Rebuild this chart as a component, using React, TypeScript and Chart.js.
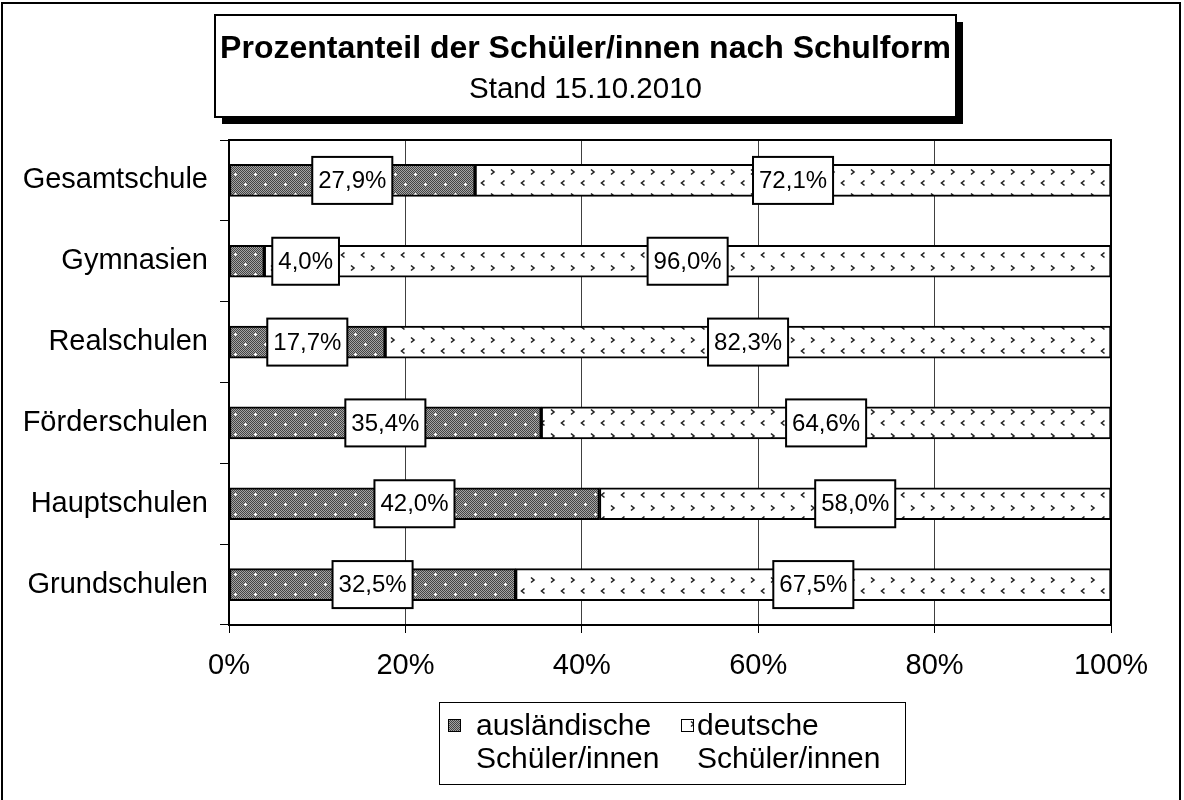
import React, { useEffect, useRef } from "react";
import { Chart, registerables } from "chart.js";

Chart.register(...registerables);

const categories = ["Gesamtschule", "Gymnasien", "Realschulen", "Förderschulen", "Hauptschulen", "Grundschulen"];
const auslaendische = [27.9, 4.0, 17.7, 35.4, 42.0, 32.5];
const deutsche = [72.1, 96.0, 82.3, 64.6, 58.0, 67.5];
const seriesNames = [["ausländische", "Schüler/innen"], ["deutsche", "Schüler/innen"]];
const titleText = "Prozentanteil der Schüler/innen nach Schulform";
const subtitleText = "Stand 15.10.2010";
const xTicks = [0, 20, 40, 60, 80, 100];

const FONT = '"Liberation Sans", Arial, Helvetica, sans-serif';

function makeDarkPattern(ctx: CanvasRenderingContext2D): CanvasPattern | string {
  const c = document.createElement("canvas");
  c.width = 20;
  c.height = 20;
  const g = c.getContext("2d");
  if (!g) return "#777";
  for (let y = 0; y < 20; y++) {
    for (let x = 0; x < 20; x++) {
      g.fillStyle = (x + y) % 2 === 0 ? "#444444" : "#a4a4a4";
      g.fillRect(x, y, 1, 1);
    }
  }
  g.fillStyle = "#ffffff";
  const dots = [[5, 4], [15, 14]];
  dots.forEach(([dx, dy]) => {
    g.fillRect(dx - 1, dy, 3, 1);
    g.fillRect(dx, dy - 1, 1, 3);
  });
  return ctx.createPattern(c, "repeat") || "#777";
}

function makeLightPattern(ctx: CanvasRenderingContext2D): CanvasPattern | string {
  const c = document.createElement("canvas");
  c.width = 20;
  c.height = 24;
  const g = c.getContext("2d");
  if (!g) return "#fff";
  g.fillStyle = "#ffffff";
  g.fillRect(0, 0, 20, 24);
  g.strokeStyle = "#222222";
  g.lineWidth = 1.6;
  // ">"
  g.beginPath();
  g.moveTo(11, 1.5);
  g.lineTo(14, 4);
  g.lineTo(11, 6.5);
  g.stroke();
  // "<"
  g.beginPath();
  g.moveTo(4.5, 12.5);
  g.lineTo(1.5, 15);
  g.lineTo(4.5, 17.5);
  g.stroke();
  return ctx.createPattern(c, "repeat") || "#fff";
}

export default function App() {
  const ref = useRef<HTMLCanvasElement | null>(null);

  useEffect(() => {
    const canvas = ref.current;
    if (!canvas) return;
    const ctx = canvas.getContext("2d");
    if (!ctx) return;
    const darkPat = makeDarkPattern(ctx);
    const lightPat = makeLightPattern(ctx);

    const decorPlugin = {
      id: "decor",
      beforeDraw(chart: any) {
        const c = chart.ctx as CanvasRenderingContext2D;
        c.save();
        c.fillStyle = "#ffffff";
        c.fillRect(0, 0, chart.width, chart.height);
        c.restore();
      },
      afterDatasetsDraw(chart: any) {
        const c = chart.ctx as CanvasRenderingContext2D;
        const area = chart.chartArea;
        c.save();
        // plot frame
        c.strokeStyle = "#000";
        c.lineWidth = 2;
        c.strokeRect(area.left, area.top, area.right - area.left, area.bottom - area.top);

        // data labels
        c.font = `24px ${FONT}`;
        c.textAlign = "center";
        c.textBaseline = "middle";
        chart.data.datasets.forEach((ds: any, di: number) => {
          const meta = chart.getDatasetMeta(di);
          meta.data.forEach((bar: any, i: number) => {
            const v = ds.data[i];
            const label = v.toFixed(1).replace(".", ",") + "%";
            const tw = c.measureText(label).width;
            const w = tw + 12;
            const h = 47;
            const x0 = Math.min(bar.x, bar.base);
            const x1 = Math.max(bar.x, bar.base);
            let cx = (x0 + x1) / 2;
            if (cx - w / 2 < area.left) cx = x1 + 8 + w / 2;
            const cy = bar.y;
            c.fillStyle = "#fff";
            c.fillRect(cx - w / 2, cy - h / 2, w, h);
            c.strokeStyle = "#000";
            c.lineWidth = 2;
            c.strokeRect(cx - w / 2, cy - h / 2, w, h);
            c.fillStyle = "#000";
            c.fillText(label, cx, cy + 1);
          });
        });
        c.restore();
      },
      afterDraw(chart: any) {
        const c = chart.ctx as CanvasRenderingContext2D;
        c.save();
        // outer border
        c.strokeStyle = "#000";
        c.lineWidth = 2;
        c.strokeRect(2, 3, 1178, 820);

        // title box with shadow
        const tb = { x: 215, y: 15, w: 741, h: 102 };
        c.fillStyle = "#000";
        c.fillRect(tb.x + 7, tb.y + 7, tb.w, tb.h);
        c.fillStyle = "#fff";
        c.fillRect(tb.x, tb.y, tb.w, tb.h);
        c.strokeStyle = "#000";
        c.lineWidth = 2;
        c.strokeRect(tb.x, tb.y, tb.w, tb.h);
        c.fillStyle = "#000";
        c.textAlign = "center";
        c.textBaseline = "alphabetic";
        c.font = `bold 32px ${FONT}`;
        c.fillText(titleText, tb.x + tb.w / 2, 58);
        c.font = `29.5px ${FONT}`;
        c.fillText(subtitleText, tb.x + tb.w / 2, 98);

        // legend
        const lb = { x: 439, y: 702, w: 466, h: 82 };
        c.fillStyle = "#fff";
        c.fillRect(lb.x, lb.y, lb.w, lb.h);
        c.strokeStyle = "#000";
        c.lineWidth = 1;
        c.strokeRect(lb.x + 0.5, lb.y + 0.5, lb.w, lb.h);
        const pats = [darkPat, lightPat];
        const mx = [448, 681];
        const tx = [476, 697];
        c.font = `30px ${FONT}`;
        c.textAlign = "left";
        seriesNames.forEach((lines, i) => {
          c.fillStyle = pats[i] as any;
          c.fillRect(mx[i], 719, 12, 12);
          c.strokeStyle = "#000";
          c.lineWidth = 1;
          c.strokeRect(mx[i] + 0.5, 719.5, 12, 12);
          c.fillStyle = "#000";
          c.fillText(lines[0], tx[i], 735);
          c.fillText(lines[1], tx[i], 768);
        });
        c.restore();
      },
    };

    const chart = new Chart(ctx, {
      type: "bar",
      data: {
        labels: categories,
        datasets: [
          {
            label: seriesNames[0].join(" "),
            data: auslaendische,
            backgroundColor: darkPat as any,
            borderColor: "#000",
            borderWidth: 2,
            borderSkipped: false,
            barThickness: 32,
          },
          {
            label: seriesNames[1].join(" "),
            data: deutsche,
            backgroundColor: lightPat as any,
            borderColor: "#000",
            borderWidth: 2,
            borderSkipped: false,
            barThickness: 32,
          },
        ],
      },
      options: {
        indexAxis: "y",
        responsive: false,
        animation: false,
        devicePixelRatio: 1,
        layout: { padding: { top: 140, right: 73, left: 0, bottom: 0 } },
        plugins: {
          legend: { display: false },
          tooltip: { enabled: false },
          title: { display: false },
        },
        scales: {
          x: {
            stacked: true,
            min: 0,
            max: 100,
            afterBuildTicks: (scale: any) => {
              scale.ticks = xTicks.map((v) => ({ value: v }));
            },
            afterFit: (scale: any) => {
              scale.height = 175;
            },
            ticks: {
              callback: (v: any) => `${v}%`,
              font: { family: FONT, size: 29 },
              color: "#000",
              padding: 16,
              maxRotation: 0,
              autoSkip: false,
            },
            grid: {
              color: "#404040",
              lineWidth: 1,
              tickLength: 8,
              tickColor: "#000",
            },
            border: { display: true, color: "#000", width: 2 },
          },
          y: {
            stacked: true,
            afterFit: (scale: any) => {
              scale.width = 229;
            },
            ticks: {
              font: { family: FONT, size: 29 },
              color: "#000",
              padding: 12,
              autoSkip: false,
            },
            grid: {
              offset: true,
              drawOnChartArea: false,
              tickLength: 9,
              tickColor: "#000",
              lineWidth: 1,
            },
            border: { display: true, color: "#000", width: 2 },
          },
        },
      },
      plugins: [decorPlugin],
    } as any);

    return () => chart.destroy();
  }, []);

  return (
    <canvas
      ref={ref}
      width={1184}
      height={800}
      style={{ position: "absolute", left: 0, top: 0, width: 1184, height: 800, display: "block" }}
    />
  );
}
